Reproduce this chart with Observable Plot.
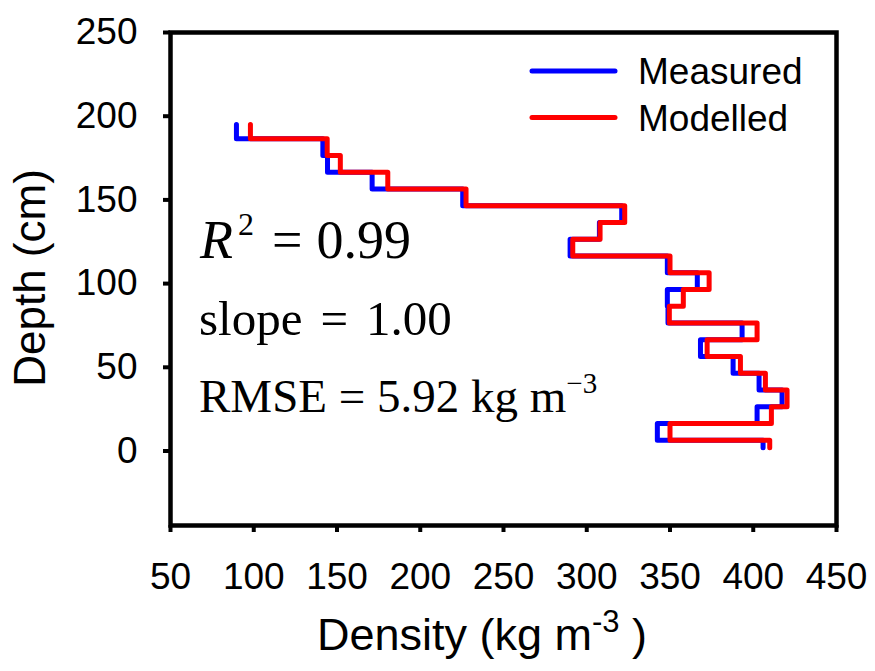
<!DOCTYPE html>
<html><head><meta charset="utf-8">
<script src="https://cdn.jsdelivr.net/npm/d3@7"></script>
<script src="https://cdn.jsdelivr.net/npm/@observablehq/plot@0.6"></script>
<style>body{margin:0;background:#fff;}</style>
</head><body><div id="chart"></div>
<script>
// Depth layers (cm): top and bottom of each layer
const layerTop    = [195, 186.5, 176.5, 166.5, 156.5, 146.5, 136.5, 126.5, 116.5, 106.5, 96.5, 86.5, 76.5, 66.5, 56.5, 46.5, 36.5, 26.5, 16.5, 6.5];
const layerBottom = [186.5, 176.5, 166.5, 156.5, 146.5, 136.5, 126.5, 116.5, 106.5, 96.5, 86.5, 76.5, 66.5, 56.5, 46.5, 36.5, 26.5, 16.5, 6.5, 2];
// Density (kg m-3) per layer
const measured = [89.6, 141.5, 144.3, 171.1, 225.5, 321.0, 307.6, 290.0, 348.4, 366.4, 348.4, 348.8, 393.3, 368.3, 387.9, 403.5, 417.3, 402.3, 342.4, 405.9];
const modelled = [98.0, 144.1, 152.0, 180.5, 227.5, 322.8, 308.0, 291.6, 350.0, 373.5, 358.0, 349.6, 402.3, 372.3, 392.3, 407.3, 420.3, 410.9, 350.0, 409.9];
const seriesNames = ["Measured", "Modelled"];
const seriesColors = ["#0000ff", "#ff0000"];
const xTicks = [50, 100, 150, 200, 250, 300, 350, 400, 450];
const yTicks = [0, 50, 100, 150, 200, 250];

function profile(values, name) {
  const pts = [];
  values.forEach((v, i) => {
    pts.push({density: v, depth: layerTop[i], series: name});
    pts.push({density: v, depth: layerBottom[i], series: name});
  });
  return pts;
}
const data = [...profile(measured, seriesNames[0]), ...profile(modelled, seriesNames[1])];

const sans = "'Liberation Sans', Arial, sans-serif";
const serif = "'Liberation Serif', 'Times New Roman', serif";

const plot = Plot.plot({
  width: 875, height: 671,
  marginLeft: 170, marginRight: 39, marginTop: 32, marginBottom: 146,
  style: {fontFamily: sans, background: "#fff", color: "#000"},
  x: {domain: [50, 450]},
  y: {domain: [-44.5, 250]},
  color: {domain: seriesNames, range: seriesColors},
  marks: [
    Plot.line(data, {x: "density", y: "depth", z: "series", stroke: "series", strokeWidth: 5, strokeLinejoin: "round", strokeLinecap: "round"}),
    Plot.frame({stroke: "#000", strokeWidth: 4.5}),
    Plot.axisX({ticks: xTicks, tickSize: 7, tickPadding: 30, strokeWidth: 4, fontSize: 37, label: null}),
    Plot.axisY({ticks: yTicks, tickSize: 7, tickPadding: 26, strokeWidth: 4, fontSize: 37, label: null})
  ]
});

const svg = d3.select(plot);

// Axis titles
const xt = svg.append("text").attr("x", 482).attr("y", 650).attr("text-anchor", "middle")
  .attr("font-family", sans).attr("font-size", 45).attr("fill", "#000");
xt.append("tspan").text("Density (kg m");
xt.append("tspan").attr("font-size", 31).attr("dy", -18).text("-3");
xt.append("tspan").attr("dy", 18).text(" )");

svg.append("text").attr("transform", "translate(45,278) rotate(-90)").attr("text-anchor", "middle")
  .attr("font-family", sans).attr("font-size", 44).attr("fill", "#000").text("Depth (cm)");

// Legend
const legend = svg.append("g").attr("text-anchor", "start");
seriesNames.forEach((name, i) => {
  const y = 71 + i * 46.5;
  legend.append("line").attr("x1", 532).attr("x2", 615).attr("y1", y).attr("y2", y)
    .attr("stroke", seriesColors[i]).attr("stroke-width", 5).attr("stroke-linecap", "round");
  legend.append("text").attr("x", 638).attr("y", y + 13).attr("text-anchor", "start").attr("font-family", sans)
    .attr("font-size", 37).attr("fill", "#000").text(name);
});

// Statistics annotations
const stats = svg.append("g").attr("font-family", serif).attr("fill", "#000").attr("text-anchor", "start");
const r2 = stats.append("text").attr("x", 200).attr("y", 258).attr("font-size", 54).attr("text-anchor", "start");
r2.append("tspan").attr("font-style", "italic").text("R");
r2.append("tspan").attr("font-size", 32).attr("dx", 5).attr("dy", -23).text("2");
r2.append("tspan").attr("dy", 23).attr("dx", 18).text("=");
r2.append("tspan").attr("dx", 14).text("0.99");
const sl = stats.append("text").attr("x", 199).attr("y", 335).attr("font-size", 49).attr("text-anchor", "start");
sl.append("tspan").text("slope");
sl.append("tspan").attr("dx", 18).text("=");
sl.append("tspan").attr("dx", 18).text("1.00");
const rm = stats.append("text").attr("x", 199).attr("y", 412).attr("font-size", 47).attr("text-anchor", "start");
rm.append("tspan").text("RMSE = 5.92 kg m");
rm.append("tspan").attr("font-size", 29).attr("dy", -19).text("\u22123");

document.getElementById("chart").appendChild(plot);
</script>
</body></html>
